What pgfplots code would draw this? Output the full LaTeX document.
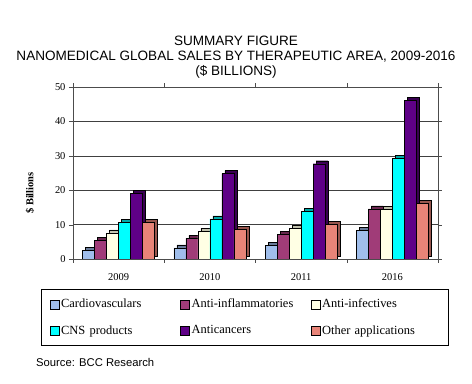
\documentclass[border=0pt]{standalone}
\usepackage{pgfplots}
\pgfplotsset{compat=1.18}
\usepackage{fontspec}
\setmainfont{Liberation Serif}
\newfontfamily\arial{Liberation Sans}
\definecolor{cCardio}{RGB}{160,190,235}
\definecolor{cInfl}{RGB}{160,60,120}
\definecolor{cInf}{RGB}{255,255,228}
\definecolor{cCNS}{RGB}{0,255,255}
\definecolor{cCancer}{RGB}{95,0,135}
\definecolor{cOther}{RGB}{232,132,120}
\pgfplotstableread{
x cardio infl inf cns cancer other
0 2.6 5.5 7.6 10.7 19.1 10.7
1 3.2 6.0 8.1 11.7 24.8 8.7
2 3.9 7.2 9.0 13.8 27.7 10.0
3 8.3 14.6 14.5 29.3 46.2 16.2
}\datatable
\begin{document}
\begin{tikzpicture}
\path[use as bounding box, fill=white] (0bp,0bp) rectangle (472bp,384bp);
\node[font=\arial\fontsize{13.6}{16}\selectfont] at (236bp,343bp) {SUMMARY FIGURE};
\node[font=\arial\fontsize{13.6}{16}\selectfont] at (236bp,327.5bp) {NANOMEDICAL GLOBAL SALES BY THERAPEUTIC AREA, 2009-2016};
\node[font=\arial\fontsize{13.6}{16}\selectfont] at (236bp,312bp) {(\$ BILLIONS)};
\node[font=\arial\fontsize{11.3}{13}\selectfont, anchor=west, inner sep=0pt] at (36bp,22bp) {Source: BCC Research};
\begin{axis}[
  at={(73bp,125bp)}, anchor=south west,
  width=365bp, height=172bp, scale only axis,
  ymin=0, ymax=50, xmin=-0.5, xmax=3.5,
  ybar, bar width=0.1315,
  xtick={0,1,2,3}, xticklabels={2009,2010,2011,2016},
  major x tick style={draw=none},
  minor xtick={-0.5,0.5,1.5,2.5,3.5},
  minor tick length=4bp,
  ytick={0,10,20,30,40,50},
  major tick length=4bp,
  tick style={black!70},
  tick align=outside,
  ymajorgrids, grid style={black!75, line width=0.6pt},
  axis line style={black!70},
  ticklabel style={font=\fontsize{10.5}{12}\selectfont},
  /pgf/number format/assume math mode=true,
  xticklabel style={yshift=-7bp},
  ylabel={\bfseries \$ Billions},
  ylabel style={at={(axis description cs:-0.118,0.384)}, anchor=center, font=\fontsize{10.5}{12}\selectfont},
  legend columns=3,
  legend cell align=left,
  legend style={at={(axis description cs:0.471,-0.174)}, anchor=north, draw=black, line width=0.6pt,
    font=\fontsize{12.5}{14}\selectfont,
    nodes={text width=116bp, align=left, inner sep=2bp},
    /tikz/every even column/.append style={column sep=1bp},
    row sep=12bp, inner xsep=8bp, inner ysep=8bp},
  legend image code/.code={\draw[#1, draw=black, line width=0.5pt] (0bp,-4.5bp) rectangle (9bp,4.5bp);},
]
\addplot[fill=cCardio!65!black, draw=black, line width=0.4pt, bar shift=-0.329, xshift=3bp, yshift=3bp, forget plot] table[x=x,y=cardio]{\datatable};
\addplot[fill=cCardio, draw=black, line width=0.4pt, bar shift=-0.329] table[x=x,y=cardio]{\datatable};
\addlegendentry{Cardiovasculars}
\addplot[fill=cInfl!65!black, draw=black, line width=0.4pt, bar shift=-0.197, xshift=3bp, yshift=3bp, forget plot] table[x=x,y=infl]{\datatable};
\addplot[fill=cInfl, draw=black, line width=0.4pt, bar shift=-0.197] table[x=x,y=infl]{\datatable};
\addlegendentry{Anti-inflammatories}
\addplot[fill=cInf!75!black, draw=black, line width=0.4pt, bar shift=-0.066, xshift=3bp, yshift=3bp, forget plot] table[x=x,y=inf]{\datatable};
\addplot[fill=cInf, draw=black, line width=0.4pt, bar shift=-0.066] table[x=x,y=inf]{\datatable};
\addlegendentry{Anti-infectives}
\addplot[fill=cCNS!65!black, draw=black, line width=0.4pt, bar shift=0.066, xshift=3bp, yshift=3bp, forget plot] table[x=x,y=cns]{\datatable};
\addplot[fill=cCNS, draw=black, line width=0.4pt, bar shift=0.066] table[x=x,y=cns]{\datatable};
\addlegendentry{CNS products}
\addplot[fill=cCancer!60!black, draw=black, line width=0.4pt, bar shift=0.197, xshift=3bp, yshift=3bp, forget plot] table[x=x,y=cancer]{\datatable};
\addplot[fill=cCancer, draw=black, line width=0.4pt, bar shift=0.197] table[x=x,y=cancer]{\datatable};
\addlegendentry{Anticancers}
\addplot[fill=cOther!65!black, draw=black, line width=0.4pt, bar shift=0.329, xshift=3bp, yshift=3bp, forget plot] table[x=x,y=other]{\datatable};
\addplot[fill=cOther, draw=black, line width=0.4pt, bar shift=0.329] table[x=x,y=other]{\datatable};
\addlegendentry{Other applications}
\end{axis}
\end{tikzpicture}
\end{document}
